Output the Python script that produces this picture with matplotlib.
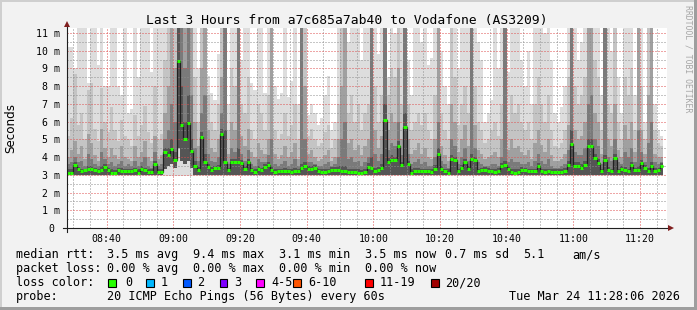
import numpy as np
import matplotlib
matplotlib.use("Agg")
import matplotlib.pyplot as plt
from matplotlib.patches import Rectangle
from matplotlib.transforms import ScaledTranslation

plt.rcParams["lines.scale_dashes"] = False

# ---------------- data ----------------
title = "Last 3 Hours from a7c685a7ab40 to Vodafone (AS3209)"
x_tick_labels = ["08:40", "09:00", "09:20", "09:40", "10:00", "10:20", "10:40", "11:00", "11:20"]
x_tick_minutes = [11.9, 31.9, 51.9, 71.9, 91.9, 111.9, 131.9, 151.9, 171.9]   # minutes after 08:28:06
x_minor_minutes = list(np.arange(1.9, 180, 5.0))
y_tick_values = [0, 1, 2, 3, 4, 5, 6, 7, 8, 9, 10, 11]
y_tick_labels = ["0", "1 m", "2 m", "3 m", "4 m", "5 m", "6 m", "7 m", "8 m", "9 m", "10 m", "11 m"]

# median rtt per 60 s sample (ms)
median_ms = [
    3.13, 3.13, 3.53, 3.32, 3.19, 3.25, 3.34, 3.34, 3.25, 3.19,
    3.28, 3.43, 3.25, 3.13, 3.09, 3.28, 3.19, 3.19, 3.23, 3.23,
    3.25, 3.13, 3.34, 3.28, 3.15, 3.15, 3.62, 3.15, 3.15, 4.28,
    4.13, 4.47, 3.85, 9.40, 5.83, 5.04, 5.92, 4.32, 3.47, 3.25,
    5.13, 3.70, 3.42, 3.28, 3.38, 3.38, 5.30, 3.70, 3.25, 3.70,
    3.70, 3.70, 3.66, 3.34, 3.70, 3.25, 3.15, 3.34, 3.25, 3.42,
    3.53, 3.25, 3.15, 3.19, 3.19, 3.19, 3.19, 3.15, 3.19, 3.19,
    3.38, 3.47, 3.32, 3.32, 3.38, 3.19, 3.15, 3.15, 3.19, 3.28,
    3.28, 3.28, 3.22, 3.20, 3.18, 3.15, 3.15, 3.13, 3.09, 3.15,
    3.43, 3.38, 3.19, 3.28, 3.38, 6.11, 3.72, 3.85, 3.81, 4.60,
    3.53, 5.68, 3.60, 3.13, 3.23, 3.19, 3.19, 3.19, 3.19, 3.15,
    3.34, 4.17, 3.34, 3.19, 3.13, 3.89, 3.81, 3.19, 3.38, 3.72,
    3.32, 3.89, 3.81, 3.19, 3.25, 3.28, 3.23, 3.19, 3.15, 3.23,
    3.47, 3.53, 3.34, 3.15, 3.13, 3.15, 3.28, 3.25, 3.19, 3.19,
    3.19, 3.47, 3.19, 3.15, 3.19, 3.15, 3.15, 3.15, 3.15, 3.23,
    3.53, 4.74, 3.47, 3.47, 3.38, 3.57, 4.64, 4.64, 3.94, 3.66,
    3.19, 3.81, 3.25, 3.19, 3.94, 3.19, 3.34, 3.28, 3.19, 3.53,
    3.25, 3.28, 3.66, 3.38, 3.19, 3.47, 3.23, 3.25, 3.47]

# smoke: ping rank values (ms) per sample, 20 pings sorted
ping_top = [
    10.2, 10.2, 9.0, 12, 12, 12, 8.2, 12, 12, 9.2,
    12, 8.0, 8.0, 12, 12, 8.0, 7.5, 12, 6.5, 6.7,
    12, 8.5, 12, 12, 12, 8.8, 12, 12, 12, 12,
    12, 12, 12, 12, 12, 12, 12, 12, 12, 9.0,
    12, 12, 8.6, 7.6, 7.2, 9.8, 12, 12, 7.0, 12,
    12, 12, 9.5, 12, 12, 8.2, 7.8, 12, 12, 7.6,
    12, 12, 8.0, 7.3, 7.6, 12, 7.4, 8.3, 12, 7.0,
    12, 12, 6.4, 7.0, 6.5, 5.8, 6.2, 7.5, 8.6, 5.5,
    6.0, 12, 12, 12, 10.5, 12, 12, 12, 9.5, 12,
    12, 12, 12, 9.8, 12, 12, 8.5, 12, 11.0, 12,
    12, 12, 9.5, 7.5, 12, 12, 10.5, 12, 9.2, 9.6,
    12, 12, 10.0, 8.0, 7.0, 12, 12, 9.0, 12, 12,
    12, 12, 12, 10.5, 9.5, 6.0, 6.5, 7.2, 12, 9.0,
    12, 12, 8.8, 12, 12, 12, 9.5, 8.0, 10.0, 7.0,
    12, 12, 12, 11.0, 12, 9.5, 6.5, 6.0, 6.8, 8.0,
    12, 12, 12, 9.5, 10.5, 12, 12, 12, 12, 12,
    7.5, 12, 12, 10.0, 12, 8.5, 6.5, 12, 12, 12,
    7.5, 12, 12, 6.0, 12, 12, 7.0, 5.5, 5.2]
ping_r18 = [
    5.2, 6.2, 8.7, 5.8, 6.5, 5.0, 7.8, 8.2, 5.6, 4.9,
    7.9, 6.0, 5.4, 6.8, 5.5, 4.9, 6.1, 5.2, 5.0, 4.6,
    6.4, 5.2, 5.8, 6.9, 5.4, 4.8, 8.0, 5.0, 5.3, 9.5,
    12, 12, 12, 12, 12, 12, 12, 12, 8.5, 6.0,
    12, 12, 7.5, 6.0, 5.5, 7.0, 12, 12, 5.5, 9.0,
    8.0, 12, 7.0, 6.5, 8.5, 5.5, 5.0, 7.0, 6.5, 5.5,
    7.5, 12, 5.5, 5.0, 5.3, 6.5, 5.2, 5.8, 7.0, 5.0,
    12, 12, 5.2, 5.6, 5.0, 4.6, 4.8, 5.4, 5.8, 4.5,
    5.0, 7.0, 12, 12, 6.5, 7.5, 6.0, 7.0, 5.5, 6.5,
    7.0, 12, 8.0, 6.0, 7.5, 12, 7.5, 9.0, 8.5, 12,
    7.0, 12, 7.0, 5.5, 6.0, 6.5, 5.8, 6.5, 5.5, 5.0,
    7.5, 12, 6.5, 5.5, 5.0, 12, 8.5, 5.8, 7.0, 8.0,
    6.5, 12, 8.0, 6.0, 5.5, 4.8, 5.0, 5.5, 6.0, 5.2,
    7.0, 12, 6.0, 7.5, 6.5, 7.0, 6.0, 5.5, 6.0, 5.0,
    7.0, 8.5, 7.0, 6.0, 7.5, 5.5, 4.6, 4.5, 4.8, 5.5,
    8.5, 12, 8.0, 7.0, 7.5, 8.5, 12, 12, 9.5, 8.5,
    5.5, 12, 7.0, 6.5, 12, 6.0, 5.0, 8.5, 7.5, 9.0,
    5.5, 12, 8.0, 5.0, 12, 12, 5.5, 4.8, 4.6]
ping_r16 = [
    4.0, 4.4, 4.9, 4.2, 4.6, 3.9, 5.3, 4.8, 4.1, 3.8,
    5.6, 4.5, 4.0, 4.5, 4.1, 3.9, 4.6, 4.0, 3.9, 3.8,
    4.6, 4.0, 4.3, 4.9, 4.0, 3.8, 5.2, 3.9, 4.1, 6.5,
    8.0, 12, 9.0, 12, 12, 12, 12, 12, 6.0, 4.6,
    9.0, 12, 5.5, 4.5, 4.3, 5.0, 8.5, 12, 4.2, 6.0,
    5.5, 12, 5.2, 4.6, 5.6, 4.3, 4.0, 4.8, 4.4, 4.2,
    5.0, 12, 4.2, 3.9, 4.1, 4.6, 4.0, 4.3, 4.8, 3.9,
    12, 8.0, 4.2, 4.4, 4.0, 3.8, 3.9, 4.1, 4.4, 3.8,
    4.0, 5.0, 8.0, 12, 4.8, 5.0, 4.4, 4.7, 4.1, 4.6,
    5.0, 12, 5.5, 4.5, 5.2, 12, 5.5, 6.5, 6.0, 9.0,
    5.0, 12, 5.0, 4.2, 4.4, 4.8, 4.2, 4.5, 4.0, 3.9,
    5.0, 12, 4.6, 4.1, 3.8, 7.0, 6.0, 4.3, 5.0, 5.8,
    4.6, 12, 5.8, 4.4, 4.2, 3.9, 4.0, 4.1, 4.3, 4.0,
    5.0, 12, 4.4, 5.0, 4.5, 4.6, 4.3, 4.1, 4.4, 3.9,
    4.8, 5.5, 4.7, 4.3, 5.0, 4.1, 3.8, 3.8, 3.9, 4.2,
    5.8, 12, 5.5, 5.0, 5.2, 6.0, 12, 12, 6.5, 6.0,
    4.2, 12, 5.0, 4.6, 7.0, 4.4, 4.0, 5.8, 5.0, 6.0,
    4.3, 12, 5.5, 4.2, 7.5, 12, 4.2, 4.0, 4.0]
ping_r14 = [
    3.6, 3.7, 4.0, 3.7, 3.8, 3.5, 4.2, 3.9, 3.6, 3.5,
    4.3, 3.9, 3.6, 3.7, 3.5, 3.6, 3.8, 3.5, 3.6, 3.5,
    3.8, 3.5, 3.7, 4.0, 3.5, 3.4, 4.3, 3.5, 3.6, 5.0,
    5.5, 7.0, 6.0, 12, 12, 9.0, 12, 7.5, 4.5, 3.8,
    6.5, 7.5, 4.2, 3.8, 3.7, 4.0, 6.5, 12, 3.6, 4.5,
    4.3, 12, 4.2, 3.8, 4.4, 3.6, 3.5, 3.9, 3.7, 3.7,
    4.1, 5.0, 3.6, 3.5, 3.6, 3.8, 3.5, 3.6, 3.9, 3.5,
    12, 5.0, 3.7, 3.7, 3.6, 3.5, 3.5, 3.6, 3.7, 3.5,
    3.6, 4.0, 5.0, 6.0, 3.9, 4.0, 3.7, 3.8, 3.5, 3.7,
    4.0, 12, 4.2, 3.8, 4.2, 12, 4.4, 4.8, 4.6, 6.0,
    4.1, 12, 4.2, 3.6, 3.7, 3.9, 3.6, 3.7, 3.5, 3.5,
    4.0, 6.0, 3.8, 3.6, 3.4, 5.0, 4.6, 3.6, 4.0, 4.5,
    3.8, 12, 4.5, 3.7, 3.6, 3.5, 3.5, 3.6, 3.6, 3.5,
    4.0, 12, 3.7, 3.9, 3.7, 3.7, 3.6, 3.6, 3.7, 3.5,
    3.8, 4.2, 3.8, 3.6, 3.9, 3.5, 3.4, 3.4, 3.5, 3.6,
    4.4, 12, 4.3, 4.1, 4.1, 4.5, 7.0, 7.5, 5.0, 4.6,
    3.6, 12, 4.0, 3.8, 5.0, 3.7, 3.6, 4.3, 4.0, 4.5,
    3.7, 5.5, 4.3, 3.7, 4.8, 6.0, 3.7, 3.6, 3.7]
ping_r12 = [
    3.3, 3.3, 3.7, 3.45, 3.35, 3.35, 3.5, 3.5, 3.4, 3.3,
    3.5, 3.6, 3.4, 3.3, 3.25, 3.4, 3.4, 3.3, 3.35, 3.35,
    3.4, 3.3, 3.5, 3.4, 3.3, 3.3, 3.8, 3.3, 3.3, 4.5,
    4.5, 5.0, 4.3, 12, 8.0, 6.0, 7.5, 5.0, 3.8, 3.45,
    5.4, 4.2, 3.6, 3.45, 3.5, 3.55, 5.6, 5.5, 3.4, 3.9,
    3.9, 4.5, 3.85, 3.5, 3.9, 3.4, 3.3, 3.5, 3.4, 3.6,
    3.7, 3.5, 3.35, 3.35, 3.35, 3.4, 3.35, 3.3, 3.4, 3.35,
    3.6, 3.7, 3.5, 3.5, 3.55, 3.35, 3.3, 3.3, 3.35, 3.45,
    3.45, 3.5, 3.5, 3.5, 3.35, 3.35, 3.3, 3.3, 3.25, 3.3,
    3.65, 4.0, 3.4, 3.45, 3.6, 7.0, 3.95, 4.1, 4.0, 4.9,
    3.75, 6.5, 3.8, 3.3, 3.4, 3.4, 3.35, 3.35, 3.35, 3.3,
    3.55, 4.5, 3.5, 3.35, 3.3, 4.1, 4.0, 3.35, 3.55, 3.9,
    3.5, 4.2, 4.0, 3.35, 3.4, 3.45, 3.4, 3.35, 3.3, 3.4,
    3.65, 3.8, 3.5, 3.3, 3.3, 3.3, 3.45, 3.4, 3.35, 3.35,
    3.35, 3.65, 3.35, 3.3, 3.35, 3.3, 3.3, 3.3, 3.3, 3.4,
    3.8, 5.5, 3.7, 3.7, 3.6, 3.8, 5.0, 5.0, 4.2, 3.9,
    3.35, 4.1, 3.45, 3.35, 4.2, 3.35, 3.5, 3.45, 3.35, 3.75,
    3.4, 3.5, 3.85, 3.55, 3.4, 3.7, 3.4, 3.4, 3.65]
ping_low = [3.0] * 29 + [3.3, 3.5, 3.6, 3.4, 4.5, 3.8, 3.6, 3.8, 3.4] + [3.0] * 141
ping_min = [2.93] * 179

loss_labels = ["0", "1", "2", "3", "4-5", "6-10", "11-19", "20/20"]
loss_colors = ["#26ff00", "#00b8ff", "#0059ff", "#7e00ff", "#ff00ff", "#ff5500", "#ff0000", "#a10000"]
median_row = [("median rtt:", 16), ("3.5 ms avg", 107), ("9.4 ms max", 193), ("3.1 ms min", 279),
              ("3.5 ms now", 365), ("0.7 ms sd", 445), ("5.1", 523), ("am/s", 572)]
loss_row = [("packet loss:", 16), ("0.00 % avg", 107), ("0.00 % max", 193), ("0.00 % min", 279),
            ("0.00 % now", 365)]
probe_text = "20 ICMP Echo Pings (56 Bytes) every 60s"
date_text = "Tue Mar 24 11:28:06 2026"

# ---------------- layout ----------------
W, H = 697, 310
MONO = "DejaVu Sans Mono"
L, R, T, B = 67, 667, 28, 228
PX_PER_MS = 17.73
PX = 0.72  # one pixel in points


def fx(px):
    return px / W


def fy(py):
    return 1 - py / H


fig = plt.figure(figsize=(W / 100, H / 100), dpi=100)
fig.patch.set_facecolor("#f2f2f2")
ax = fig.add_axes([fx(L), fy(B), (R - L) / W, (B - T) / H])
ax.set_facecolor("white")
ax.set_xlim(0, 180)
ax.set_ylim(0, (B - T) / PX_PER_MS)
for s in ax.spines.values():
    s.set_visible(False)

n = len(median_ms)
edges = -0.1 + np.arange(n + 1)


def ext(a):
    a = np.asarray(a, dtype=float)
    return np.append(a, a[-1])


def band(lo, hi, color):
    ax.fill_between(edges, ext(lo), ext(hi), step="post", color=color, linewidth=0, zorder=1)


med = np.asarray(median_ms)
low = np.asarray(ping_low)
band(ping_min, ping_top, "#dddddd")
band(low, ping_r18, "#c4c4c4")
band(low, ping_r16, "#a0a0a0")
band(low, ping_r14, "#7a7a7a")
band(low, ping_r12, "#555555")

ax.stairs(med, edges, baseline=None, color="#202020", linewidth=0.9, zorder=3)
ax.hlines(med, edges[:-1], edges[1:], colors=loss_colors[0], linewidth=2.2, zorder=4,
          capstyle="butt")

# grid (dotted, drawn over the smoke like rrdtool)
ax.set_xticks(x_tick_minutes)
ax.set_xticks(x_minor_minutes, minor=True)
ax.set_yticks(y_tick_values)
ax.set_yticks(list(np.arange(0.5, 11.5, 1.0)), minor=True)
ax.set_axisbelow(False)
ax.grid(which="major", color=(0.87, 0.31, 0.31, 0.6), linestyle=(0, (PX, 2 * PX)), linewidth=PX,
        snap=True)
ax.grid(which="minor", color=(0.56, 0.56, 0.56, 0.7), linestyle=(0, (PX, 2 * PX)), linewidth=PX,
        snap=True)
ax.set_xticklabels(x_tick_labels, fontfamily=MONO, fontsize=7.1)
ax.set_yticklabels(y_tick_labels, fontfamily=MONO, fontsize=7.1)
ax.tick_params(which="both", length=0)
ax.tick_params(axis="x", pad=4.4)
ax.tick_params(axis="y", pad=5.2)
for lbl in ax.get_yticklabels():
    lbl.set_verticalalignment("center_baseline")
ylbl0 = ax.get_yticklabels()[0]
ylbl0.set_transform(ylbl0.get_transform() + ScaledTranslation(-0.0585, 0, fig.dpi_scale_trans))

# axes lines with arrows
axis_col = (0.12, 0.12, 0.12)
arrow_col = (0.5, 0.12, 0.12)
ax.plot([-1.2, 181.0], [0, 0], color=axis_col, linewidth=0.8, clip_on=False, zorder=5)
ax.plot([0, 0], [-0.25, 11.45], color=axis_col, linewidth=0.8, clip_on=False, zorder=5)
ax.plot([181.2], [0], marker=">", markersize=4.5, color=arrow_col, clip_on=False, zorder=6,
        markeredgewidth=0)
ax.plot([0], [11.53], marker="^", markersize=4.5, color=arrow_col, clip_on=False, zorder=6,
        markeredgewidth=0)

# title, labels
fig.text(fx(347), fy(24), title, ha="center", va="baseline", fontfamily=MONO, fontsize=9.35,
         color="black")
fig.text(fx(11), fy(128), "Seconds", rotation=90, ha="center", va="center",
         fontfamily="DejaVu Sans", fontsize=8.6, color="black")
fig.text(fx(688), fy(5), "RRDTOOL / TOBI OETIKER", rotation=270, ha="center", va="top",
         fontfamily=MONO, fontsize=5.9, color="#a6a6a6")

# legend
LFS = 8.45
for txt, x in median_row:
    fig.text(fx(x), fy(258), txt, ha="left", va="baseline", fontfamily=MONO, fontsize=LFS)
for txt, x in loss_row:
    fig.text(fx(x), fy(272), txt, ha="left", va="baseline", fontfamily=MONO, fontsize=LFS)
fig.text(fx(16), fy(286), "loss color:", ha="left", va="baseline", fontfamily=MONO, fontsize=LFS)
box_x = [108, 146, 183, 220, 256, 293, 365, 431]
lab_x = [125, 161, 197, 234, 271, 308, 380, 445]
for lab, col, bx, lx in zip(loss_labels, loss_colors, box_x, lab_x):
    fig.add_artist(Rectangle((fx(bx), fy(286.5)), 7.5 / W, 8 / H, transform=fig.transFigure,
                             facecolor=col, edgecolor="black", linewidth=0.8))
    fig.text(fx(lx), fy(286), lab, ha="left", va="baseline", fontfamily=MONO, fontsize=LFS)
fig.text(fx(16), fy(300), "probe:", ha="left", va="baseline", fontfamily=MONO, fontsize=LFS)
fig.text(fx(107), fy(300), probe_text, ha="left", va="baseline", fontfamily=MONO, fontsize=LFS)
fig.text(fx(680), fy(300), date_text, ha="right", va="baseline", fontfamily=MONO, fontsize=LFS)

# frame shading
fig.add_artist(Rectangle((0, fy(2)), 1, 2 / H, transform=fig.transFigure, facecolor="#cfcfcf",
                         linewidth=0))
fig.add_artist(Rectangle((0, 0), 2 / W, 1, transform=fig.transFigure, facecolor="#cfcfcf",
                         linewidth=0))
fig.add_artist(Rectangle((0, 0), 1, 3 / H, transform=fig.transFigure, facecolor="#9e9e9e",
                         linewidth=0))
fig.add_artist(Rectangle((fx(694), 0), 3 / W, 1, transform=fig.transFigure, facecolor="#9e9e9e",
                         linewidth=0))

fig.savefig("out.png", dpi=100, facecolor=fig.get_facecolor())
